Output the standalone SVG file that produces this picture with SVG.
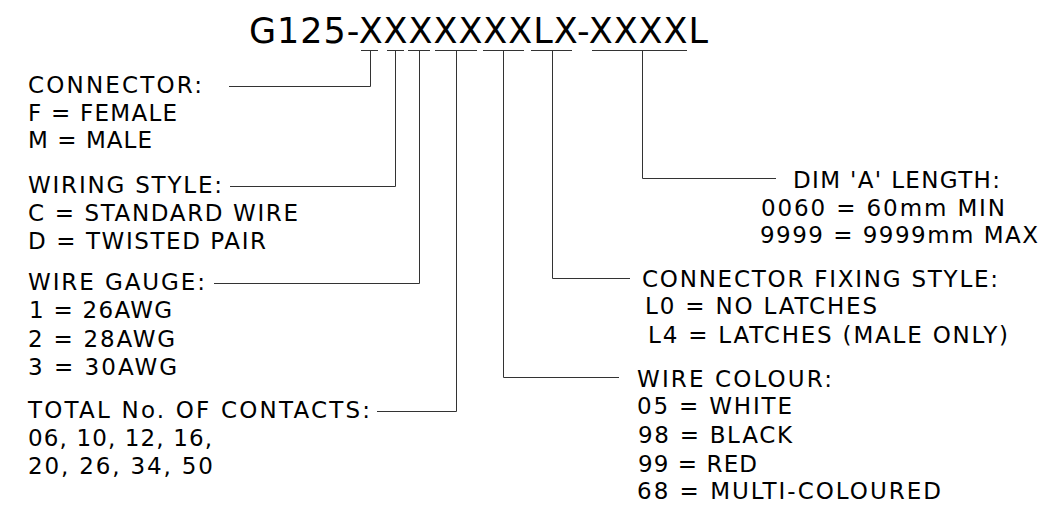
<svg xmlns="http://www.w3.org/2000/svg" width="1049" height="505" viewBox="0 0 1049 505">
<style>
text{font-family:"DejaVu Sans","Liberation Sans",sans-serif;fill:#000;font-size:23px}
.title{font-size:35px}
.ln{fill:none;stroke:#333;stroke-width:1}
</style>
<rect width="1049" height="505" fill="#fff"/>
<g id="title">
<text class="title" x="249" y="43" textLength="459" lengthAdjust="spacing">G125-XXXXXXXLX-XXXXL</text>
</g>
<g id="connectors">
<path class="ln" d="M361 50.5H378M387 50.5H404M408 50.5H430M435 50.5H477M483 50.5H524M531 50.5H572M592 50.5H687"/>
<path class="ln" d="M370.5 50V86.5H229"/>
<path class="ln" d="M395.5 50V186.5H230"/>
<path class="ln" d="M419.5 50V283.5H214"/>
<path class="ln" d="M456.5 50V411.5H377"/>
<path class="ln" d="M503.5 50V377.5H619"/>
<path class="ln" d="M552.5 50V278.5H630"/>
<path class="ln" d="M642.5 50V178.5H776"/>
</g>
<g id="connector">
<text x="28" y="93" textLength="174" lengthAdjust="spacing">CONNECTOR:</text>
<text x="28" y="121" textLength="149" lengthAdjust="spacing">F = FEMALE</text>
<text x="28" y="148" textLength="124" lengthAdjust="spacing">M = MALE</text>
</g>
<g id="wiring-style">
<text x="28" y="193" textLength="194" lengthAdjust="spacing">WIRING STYLE:</text>
<text x="28" y="221" textLength="270" lengthAdjust="spacing">C = STANDARD WIRE</text>
<text x="28" y="249" textLength="238" lengthAdjust="spacing">D = TWISTED PAIR</text>
</g>
<g id="wire-gauge">
<text x="28" y="290" textLength="177" lengthAdjust="spacing">WIRE GAUGE:</text>
<text x="29" y="318" textLength="143" lengthAdjust="spacing">1 = 26AWG</text>
<text x="28" y="347" textLength="147" lengthAdjust="spacing">2 = 28AWG</text>
<text x="28" y="375" textLength="149" lengthAdjust="spacing">3 = 30AWG</text>
</g>
<g id="contacts">
<text x="28" y="418" textLength="342" lengthAdjust="spacing">TOTAL No. OF CONTACTS:</text>
<text x="28" y="446" textLength="184" lengthAdjust="spacing">06, 10, 12, 16,</text>
<text x="28" y="474" textLength="185" lengthAdjust="spacing">20, 26, 34, 50</text>
</g>
<g id="dim-length">
<text x="793" y="188" textLength="207" lengthAdjust="spacing">DIM 'A' LENGTH:</text>
<text x="761" y="216" textLength="244" lengthAdjust="spacing">0060 = 60mm MIN</text>
<text x="760" y="243" textLength="278" lengthAdjust="spacing">9999 = 9999mm MAX</text>
</g>
<g id="fixing-style">
<text x="642" y="287" textLength="356" lengthAdjust="spacing">CONNECTOR FIXING STYLE:</text>
<text x="645" y="314" textLength="232" lengthAdjust="spacing">L0 = NO LATCHES</text>
<text x="648" y="343" textLength="360" lengthAdjust="spacing">L4 = LATCHES (MALE ONLY)</text>
</g>
<g id="wire-colour">
<text x="637" y="387" textLength="195" lengthAdjust="spacing">WIRE COLOUR:</text>
<text x="637" y="414" textLength="155" lengthAdjust="spacing">05 = WHITE</text>
<text x="638" y="443" textLength="154" lengthAdjust="spacing">98 = BLACK</text>
<text x="638" y="472" textLength="119" lengthAdjust="spacing">99 = RED</text>
<text x="637" y="499" textLength="304" lengthAdjust="spacing">68 = MULTI-COLOURED</text>
</g>
</svg>
